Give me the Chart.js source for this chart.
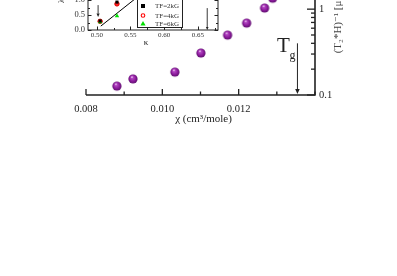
<!DOCTYPE html>
<html><head><meta charset="utf-8">
<script src="https://cdn.jsdelivr.net/npm/chart.js@4/dist/chart.umd.min.js"></script>
<style>
html,body{margin:0;padding:0;background:#fff;overflow:hidden;width:397px;height:276px}
#wrap{position:relative;width:397px;height:276px;overflow:hidden;background:#fff}
#main{position:absolute;left:0;top:-87px}
#inset{position:absolute;left:0;top:-40px}
</style></head><body>
<div id="wrap"><canvas id="main" width="397" height="363"></canvas><canvas id="inset" width="240" height="95"></canvas></div>
<script>
// ---- main chart data ----
const chiValues  = [0.00881, 0.00923, 0.01033, 0.01101, 0.01171, 0.01221, 0.01268, 0.01289];
const rateValues = [0.127, 0.154, 0.185, 0.308, 0.499, 0.688, 1.03, 1.34];
const xTicks      = [0.008, 0.009, 0.010, 0.011, 0.012, 0.013, 0.014];
const xTickLabels = ['0.008', '', '0.010', '', '0.012', '', ''];
const yTicks      = [0.1,0.2,0.3,0.4,0.5,0.6,0.7,0.8,0.9,1,2,3,4,5,6,7,8,9,10];
const yTickLabels = ['0.1','','','','','','','','','1','','','','','','','','','10'];
const tgChi = 0.01354, tgTop = 0.40;
const xTitle = 'χ (cm³/mole)';
const yTitle = '(T₂*H)⁻¹ [μs⁻¹ kG⁻¹]';

// ---- inset data ----
const kappa2 = [0.505, 0.530], tf2 = [0.30, 0.93];
const kappa4 = [0.505, 0.530], tf4 = [0.29, 0.87];
const kappa6 = [0.505, 0.530], tf6 = [0.27, 0.47];
const fitKappa = [0.506, 0.566], fitValue = [0.13, 1.20];
const insetXTicks  = [0.50,0.525,0.55,0.575,0.60,0.625,0.65,0.675];
const insetXLabels = ['0.50','','0.55','','0.60','','0.65',''];
const insetYTicks  = [0,0.25,0.5,0.75,1.0,1.25,1.5];
const insetYLabels = ['0.0','','0.5','','1.0','','1.5'];
const arrowKappa = 0.502, arrowFrom = 0.83, arrowTo = 0.43;
const markKappa = 0.664, markFrom = 0.73, markTo = 0.0;
const legendNames = ['TF=2kG','TF=4kG','TF=6kG'];

const SERIF = '"Liberation Serif", "DejaVu Serif", serif';
const INK = '#222';

function sphere(r){
  const s = Math.ceil(2*r)+2, c = document.createElement('canvas');
  c.width = s; c.height = s;
  const g = c.getContext('2d'), cx = s/2, cy = s/2;
  const gr = g.createRadialGradient(cx-r*0.25, cy-r*0.45, r*0.05, cx, cy, r);
  gr.addColorStop(0, '#f6e0f6');
  gr.addColorStop(0.22, '#b245c2');
  gr.addColorStop(0.65, '#8c1c9c');
  gr.addColorStop(1, '#5c0a6c');
  g.fillStyle = gr; g.beginPath(); g.arc(cx, cy, r, 0, Math.PI*2); g.fill();
  return c;
}

function arrowDown(ctx, x, y1, y2, head){
  ctx.beginPath(); ctx.moveTo(x, y1); ctx.lineTo(x, y2 - head); ctx.stroke();
  ctx.beginPath(); ctx.moveTo(x, y2); ctx.lineTo(x - head*0.45, y2 - head); ctx.lineTo(x + head*0.45, y2 - head); ctx.closePath(); ctx.fill();
}

const mainPlugin = {
  id: 'mainAxes',
  afterDraw(chart){
    const ctx = chart.ctx, a = chart.chartArea, xs = chart.scales.x, ys = chart.scales.y;
    ctx.save();
    ctx.strokeStyle = INK; ctx.fillStyle = INK;
    ctx.lineWidth = 1.6;
    ctx.beginPath(); ctx.moveTo(a.left, a.bottom); ctx.lineTo(a.right, a.bottom); ctx.lineTo(a.right, a.top); ctx.stroke();
    ctx.lineWidth = 1.3;
    xTicks.forEach((v, i) => {
      const px = xs.getPixelForValue(v), len = xTickLabels[i] !== '' ? 6 : 3.5;
      ctx.beginPath(); ctx.moveTo(px, a.bottom); ctx.lineTo(px, a.bottom - len); ctx.stroke();
    });
    yTicks.forEach((v, i) => {
      const py = ys.getPixelForValue(v), len = yTickLabels[i] !== '' ? 8 : 4;
      ctx.beginPath(); ctx.moveTo(a.right, py); ctx.lineTo(a.right - len, py); ctx.stroke();
    });
    // Tg arrow
    ctx.lineWidth = 1;
    const tx = xs.getPixelForValue(tgChi);
    arrowDown(ctx, tx, ys.getPixelForValue(tgTop), a.bottom - 1, 5);
    ctx.textBaseline = 'alphabetic';
    ctx.font = '21px ' + SERIF; ctx.textAlign = 'center';
    ctx.fillText('T', tx - 14, ys.getPixelForValue(tgTop) + 9);
    ctx.font = '12px ' + SERIF; ctx.textAlign = 'left';
    ctx.fillText('g', tx - 8, ys.getPixelForValue(tgTop) + 16);
    // x title
    ctx.font = '11px ' + SERIF; ctx.textAlign = 'center'; ctx.textBaseline = 'middle';
    ctx.fillText(xTitle, (a.left + a.right)/2 + 3, a.bottom + 24);
    // y title rotated, reading upwards
    ctx.save();
    ctx.translate(a.right + 23, ys.getPixelForValue(0.4) + 10);
    ctx.rotate(-Math.PI/2);
    ctx.textAlign = 'left'; ctx.textBaseline = 'middle'; ctx.font = '11px ' + SERIF;
    ctx.fillStyle = '#444';
    ctx.fillText(yTitle, 0, 0);
    ctx.restore();
    ctx.restore();
  }
};

new Chart(document.getElementById('main'), {
  type: 'scatter',
  data: { datasets: [{
    data: chiValues.map((c, i) => ({x: c, y: rateValues[i]})),
    pointStyle: sphere(4.6), pointRadius: 5, clip: false
  }]},
  options: {
    responsive: false, animation: false, events: [],
    layout: { padding: { left: 86, top: 10, right: 0, bottom: 0 } },
    plugins: { legend: { display: false }, tooltip: { enabled: false } },
    scales: {
      x: {
        type: 'linear', min: 0.008, max: 0.014,
        grid: { display: false, drawTicks: false }, border: { display: false },
        afterBuildTicks: s => { s.ticks = xTicks.map(v => ({value: v})); },
        afterFit: s => { s.height = 181; },
        ticks: { autoSkip: false, maxRotation: 0, padding: 7.5, color: INK,
          font: { family: SERIF, size: 10.5 }, callback: (v, i) => xTickLabels[i] }
      },
      y: {
        type: 'logarithmic', position: 'right', min: 0.1, max: 10,
        grid: { display: false, drawTicks: false }, border: { display: false },
        afterBuildTicks: s => { s.ticks = yTicks.map(v => ({value: v})); },
        afterFit: s => { s.width = 82; },
        ticks: { autoSkip: false, padding: 4, color: INK,
          font: { family: SERIF, size: 10.5 }, callback: (v, i) => yTickLabels[i] }
      }
    }
  },
  plugins: [mainPlugin]
});

const insetPlugin = {
  id: 'insetAxes',
  beforeDraw(chart){
    const ctx = chart.ctx, a = chart.chartArea;
    ctx.save(); ctx.fillStyle = '#fff'; ctx.fillRect(a.left, a.top, a.right - a.left, a.bottom - a.top); ctx.restore();
  },
  afterDraw(chart){
    const ctx = chart.ctx, a = chart.chartArea, xs = chart.scales.x, ys = chart.scales.y;
    ctx.save();
    ctx.strokeStyle = INK; ctx.fillStyle = INK; ctx.lineWidth = 1;
    ctx.strokeRect(a.left, a.top, a.right - a.left, a.bottom - a.top);
    insetXTicks.forEach((v, i) => {
      const px = Math.round(xs.getPixelForValue(v)) + 0.5, len = insetXLabels[i] !== '' ? 3.5 : 2;
      ctx.beginPath(); ctx.moveTo(px, a.bottom); ctx.lineTo(px, a.bottom - len);
      ctx.moveTo(px, a.top); ctx.lineTo(px, a.top + len); ctx.stroke();
    });
    insetYTicks.forEach((v, i) => {
      const py = Math.round(ys.getPixelForValue(v)) + 0.5, len = insetYLabels[i] !== '' ? 3.5 : 2;
      ctx.beginPath(); ctx.moveTo(a.left, py); ctx.lineTo(a.left + len, py);
      ctx.moveTo(a.right, py); ctx.lineTo(a.right - len, py); ctx.stroke();
    });
    ctx.lineWidth = 0.9;
    arrowDown(ctx, xs.getPixelForValue(arrowKappa), ys.getPixelForValue(arrowFrom), ys.getPixelForValue(arrowTo), 3.5);
    arrowDown(ctx, xs.getPixelForValue(markKappa), ys.getPixelForValue(markFrom), ys.getPixelForValue(markTo), 3);
    // legend
    const lx = 137, ly = 36, lw = 45, lh = 31;
    ctx.fillStyle = '#fff'; ctx.fillRect(lx, ly, lw, lh);
    ctx.strokeStyle = INK; ctx.lineWidth = 1; ctx.strokeRect(lx + 0.5, ly + 0.5, lw, lh);
    ctx.font = '7px ' + SERIF; ctx.textAlign = 'left'; ctx.textBaseline = 'middle';
    const rows = [46, 55.5, 63.5];
    rows.forEach((y, i) => {
      const mx = 143;
      if (i === 0) { ctx.fillStyle = '#000'; ctx.fillRect(mx - 2, y - 2, 4, 4); }
      if (i === 1) { ctx.strokeStyle = '#f00'; ctx.lineWidth = 1.1; ctx.beginPath(); ctx.arc(mx, y, 1.8, 0, Math.PI*2); ctx.stroke(); }
      if (i === 2) { ctx.fillStyle = '#00e000'; ctx.beginPath(); ctx.moveTo(mx, y - 2.6); ctx.lineTo(mx + 2.6, y + 2); ctx.lineTo(mx - 2.6, y + 2); ctx.closePath(); ctx.fill(); }
      ctx.fillStyle = '#333'; ctx.fillText(legendNames[i], 155, y + 0.5);
    });
    // kappa title
    ctx.fillStyle = INK; ctx.font = '9px ' + SERIF; ctx.textAlign = 'center';
    ctx.fillText('κ', 146, 82.5);
    // y title fragment
    ctx.save(); ctx.translate(62, 43); ctx.rotate(-Math.PI/2);
    ctx.textAlign = 'left'; ctx.font = '8px ' + SERIF; ctx.fillText('λ (μs⁻¹)', 0, 0);
    ctx.restore();
    ctx.restore();
  }
};

new Chart(document.getElementById('inset'), {
  type: 'scatter',
  data: { datasets: [
    { type: 'line', data: fitKappa.map((k, i) => ({x: k, y: fitValue[i]})), borderColor: '#000', borderWidth: 1, pointRadius: 0, fill: false, order: 4 },
    { data: kappa4.map((k, i) => ({x: k, y: tf4[i]})), pointStyle: 'circle', pointRadius: 2.2, backgroundColor: '#ff2020', borderColor: '#e00000', borderWidth: 1, order: 3 },
    { data: kappa6.map((k, i) => ({x: k, y: tf6[i]})), pointStyle: 'triangle', pointRadius: 2.6, backgroundColor: '#00e000', borderColor: '#00d000', borderWidth: 0, order: 2 },
    { data: kappa2.map((k, i) => ({x: k, y: tf2[i]})), pointStyle: 'rect', pointRadius: 2.2, backgroundColor: '#000', borderColor: '#000', borderWidth: 0, order: 1 }
  ]},
  options: {
    responsive: false, animation: false, events: [],
    layout: { padding: { left: 0, top: 25, right: 22, bottom: 0 } },
    plugins: { legend: { display: false }, tooltip: { enabled: false } },
    scales: {
      x: {
        type: 'linear', min: 0.487, max: 0.68,
        grid: { display: false, drawTicks: false }, border: { display: false },
        afterBuildTicks: s => { s.ticks = insetXTicks.map(v => ({value: v})); },
        afterFit: s => { s.height = 25; },
        ticks: { autoSkip: false, maxRotation: 0, padding: 1, color: '#333',
          font: { family: SERIF, size: 7 }, callback: (v, i) => insetXLabels[i] }
      },
      y: {
        type: 'linear', min: 0, max: 1.5,
        grid: { display: false, drawTicks: false }, border: { display: false },
        afterBuildTicks: s => { s.ticks = insetYTicks.map(v => ({value: v})); },
        afterFit: s => { s.width = 88; },
        ticks: { autoSkip: false, padding: 3, color: '#333',
          font: { family: SERIF, size: 8.5 }, callback: (v, i) => insetYLabels[i] }
      }
    }
  },
  plugins: [insetPlugin]
});
</script>
</body></html>
